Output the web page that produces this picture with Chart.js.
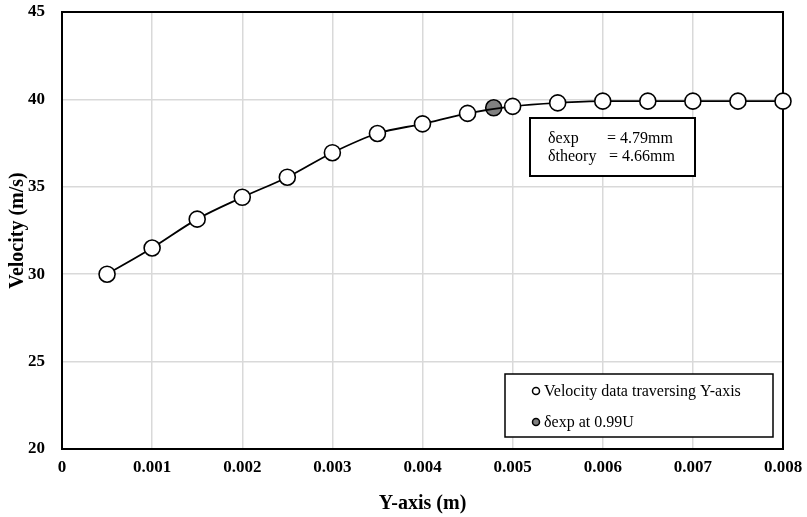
<!DOCTYPE html>
<html>
<head>
<meta charset="utf-8">
<script src="https://cdn.jsdelivr.net/npm/chart.js@4/dist/chart.umd.min.js"></script>
<style>
    html, body { margin: 0; padding: 0; background: #fff; }
    #wrap { width: 807px; height: 517px; }
</style>
</head>
<body>
<div id="wrap"><canvas id="chart" width="807" height="517"></canvas></div>
<script>
// ================= DATA =================
const yPositions = [0.0005, 0.001, 0.0015, 0.002, 0.0025, 0.003, 0.0035, 0.004,
                    0.0045, 0.005, 0.0055, 0.006, 0.0065, 0.007, 0.0075, 0.008];
const velocities = [30.0, 31.5, 33.15, 34.4, 35.55, 36.95, 38.05, 38.6,
                    39.2, 39.6, 39.8, 39.9, 39.9, 39.9, 39.9, 39.9];
const deltaExpX = [0.00479];
const deltaExpY = [39.52];
const xTicks = [0, 0.001, 0.002, 0.003, 0.004, 0.005, 0.006, 0.007, 0.008];
const yTicks = [20, 25, 30, 35, 40, 45];
const noteLines = [["δexp", "= 4.79mm"], ["δtheory", "= 4.66mm"]];

const serif = "'Liberation Serif', 'Times New Roman', serif";

// ================= PLUGIN: plot frame =================
const framePlugin = {
    id: "frame",
    beforeDatasetsDraw(chart) {
        const a = chart.chartArea;
        const ctx = chart.ctx;
        ctx.save();
        ctx.strokeStyle = "#000";
        ctx.lineWidth = 2;
        ctx.strokeRect(a.left, a.top, a.right - a.left, a.bottom - a.top);
        ctx.restore();
    }
};

// ================= PLUGIN: note box + legend box =================
const boxesPlugin = {
    id: "boxes",
    afterDraw(chart) {
        const ctx = chart.ctx;
        ctx.save();

        // note box
        ctx.fillStyle = "#fff";
        ctx.fillRect(530, 118, 165, 58);
        ctx.strokeStyle = "#000";
        ctx.lineWidth = 2;
        ctx.strokeRect(530, 118, 165, 58);
        ctx.fillStyle = "#000";
        ctx.font = "16px " + serif;
        ctx.textBaseline = "middle";
        ctx.textAlign = "left";
        ctx.fillText(noteLines[0][0], 548, 139);
        ctx.fillText(noteLines[0][1], 607, 139);
        ctx.fillText(noteLines[1][0], 548, 157);
        ctx.fillText(noteLines[1][1], 609, 157);

        // legend box
        ctx.fillStyle = "#fff";
        ctx.fillRect(505, 374, 268, 63);
        ctx.strokeStyle = "#000";
        ctx.lineWidth = 1.5;
        ctx.strokeRect(505, 374, 268, 63);

        const rows = [391, 422];
        chart.data.datasets.forEach((ds, i) => {
            ctx.beginPath();
            ctx.arc(536, rows[i], 3.5, 0, Math.PI * 2);
            ctx.fillStyle = ds.pointBackgroundColor;
            ctx.fill();
            ctx.lineWidth = 1.5;
            ctx.strokeStyle = "#000";
            ctx.stroke();
            ctx.fillStyle = "#000";
            ctx.font = "16px " + serif;
            ctx.fillText(ds.label, 544, rows[i] + 1);
        });

        ctx.restore();
    }
};

// ================= CHART =================
const mainPoints = yPositions.map((x, i) => ({ x: x, y: velocities[i] }));
const deltaPoints = deltaExpX.map((x, i) => ({ x: x, y: deltaExpY[i] }));

new Chart(document.getElementById("chart").getContext("2d"), {
    type: "scatter",
    data: {
        datasets: [
            {
                label: "Velocity data traversing Y-axis",
                data: mainPoints,
                showLine: true,
                cubicInterpolationMode: "monotone",
                borderColor: "#000",
                borderWidth: 1.8,
                pointRadius: 8,
                pointBorderWidth: 1.6,
                pointBackgroundColor: "#fff",
                pointBorderColor: "#000"
            },
            {
                label: "δexp at 0.99U",
                data: deltaPoints,
                showLine: false,
                pointRadius: 8,
                pointBorderWidth: 1.6,
                pointBackgroundColor: "#808080",
                pointBorderColor: "#000"
            }
        ]
    },
    options: {
        responsive: false,
        animation: false,
        clip: false,
        layout: { padding: { top: 12, right: 24, left: 0, bottom: 0 } },
        plugins: {
            legend: { display: false },
            tooltip: { enabled: false }
        },
        scales: {
            x: {
                type: "linear",
                min: 0,
                max: 0.008,
                afterFit: scale => {
                    scale.height = 68;
                    scale.paddingLeft = 0;
                    scale.paddingRight = 0;
                },
                afterBuildTicks: scale => { scale.ticks = xTicks.map(v => ({ value: v })); },
                grid: { color: "#d9d9d9", lineWidth: 1.5, drawTicks: false },
                border: { color: "#000", width: 2 },
                ticks: {
                    padding: 8,
                    color: "#000",
                    font: { family: serif, size: 17, weight: "bold" },
                    callback: v => String(v)
                },
                title: {
                    display: true,
                    text: "Y-axis (m)",
                    color: "#000",
                    font: { family: serif, size: 20, weight: "bold" },
                    padding: { top: 0, bottom: 1 }
                }
            },
            y: {
                min: 20,
                max: 45,
                afterFit: scale => {
                    scale.width = 62;
                    scale.paddingTop = 0;
                    scale.paddingBottom = 0;
                },
                afterBuildTicks: scale => { scale.ticks = yTicks.map(v => ({ value: v })); },
                grid: { color: "#d9d9d9", lineWidth: 1.5, drawTicks: false },
                border: { color: "#000", width: 2 },
                ticks: {
                    padding: 17,
                    color: "#000",
                    font: { family: serif, size: 17, weight: "bold" }
                },
                title: {
                    display: true,
                    text: "Velocity (m/s)",
                    color: "#000",
                    font: { family: serif, size: 20, weight: "bold" },
                    padding: { top: 6, bottom: 0 }
                }
            }
        }
    },
    plugins: [framePlugin, boxesPlugin]
});
</script>
</body>
</html>
